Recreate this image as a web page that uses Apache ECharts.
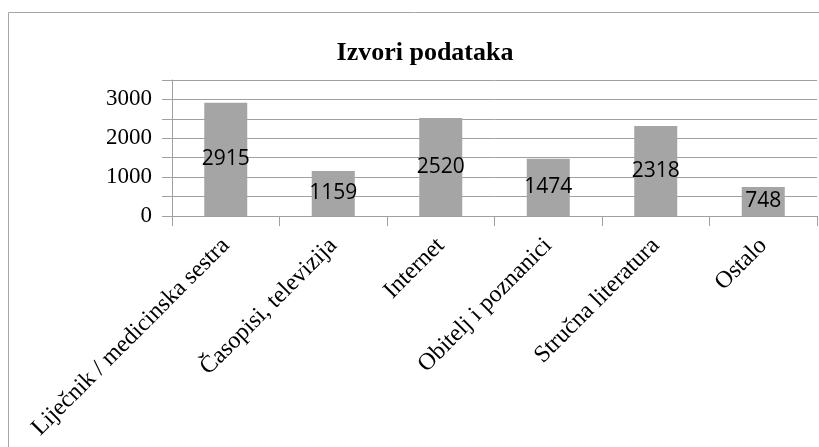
<!DOCTYPE html>
<html>
<head>
<meta charset="utf-8">
<script src="https://cdn.jsdelivr.net/npm/echarts@6/dist/echarts.min.js"></script>
<style>html,body{margin:0;padding:0;background:#fff;}#c{width:819px;height:447px;}</style>
</head>
<body>
<div id="c"></div>
<script>
const title = 'Izvori podataka';
const categories = ['Liječnik / medicinska sestra', 'Časopisi, televizija', 'Internet', 'Obitelj i poznanici', 'Stručna literatura', 'Ostalo'];
const values = [2915, 1159, 2520, 1474, 2318, 748];
const yMin = 0, yMax = 3500, yGridStep = 500, yLabelStep = 1000;

const chart = echarts.init(document.getElementById('c'), null, {renderer: 'canvas'});
chart.setOption({
  animation: false,
  backgroundColor: '#ffffff',
  title: {
    text: title,
    left: 420, top: 35, textAlign: 'center',
    textStyle: {fontFamily: 'Liberation Serif', fontWeight: 'bold', fontSize: 26, color: '#000'}
  },
  graphic: [{
    type: 'rect', z: -1, silent: true,
    shape: {x: 8.5, y: 12.5, width: 900, height: 600},
    style: {fill: 'none', stroke: '#a6a6a6', lineWidth: 1}
  }],
  grid: {left: 172, right: 2, top: 80, bottom: 231, containLabel: false},
  xAxis: {
    type: 'category',
    data: categories,
    axisLine: {show: true, lineStyle: {color: '#a0a0a0', width: 1}},
    axisTick: {show: true, length: 10, alignWithLabel: false, lineStyle: {color: '#a0a0a0'}},
    axisLabel: {interval: 0, rotate: 45, margin: 26, fontFamily: 'Liberation Serif', fontSize: 24, color: '#000'},
    splitLine: {show: false}
  },
  yAxis: {
    type: 'value',
    min: yMin, max: yMax, interval: yGridStep,
    axisLine: {show: true, lineStyle: {color: '#a0a0a0', width: 1}},
    axisTick: {show: true, length: 10, lineStyle: {color: '#a0a0a0'}},
    axisLabel: {
      margin: 20, fontFamily: 'Liberation Serif', fontSize: 23, color: '#000',
      formatter: v => (v % yLabelStep === 0 && v < yMax) ? String(v) : ''
    },
    splitLine: {show: true, lineStyle: {color: '#a0a0a0', width: 1}}
  },
  series: [{
    type: 'bar',
    data: values,
    barWidth: '40%',
    itemStyle: {color: '#a5a5a5'},
    label: {show: true, position: 'inside', color: '#000', fontFamily: 'Open Sans', fontSize: 21}
  }]
});
</script>
</body>
</html>
